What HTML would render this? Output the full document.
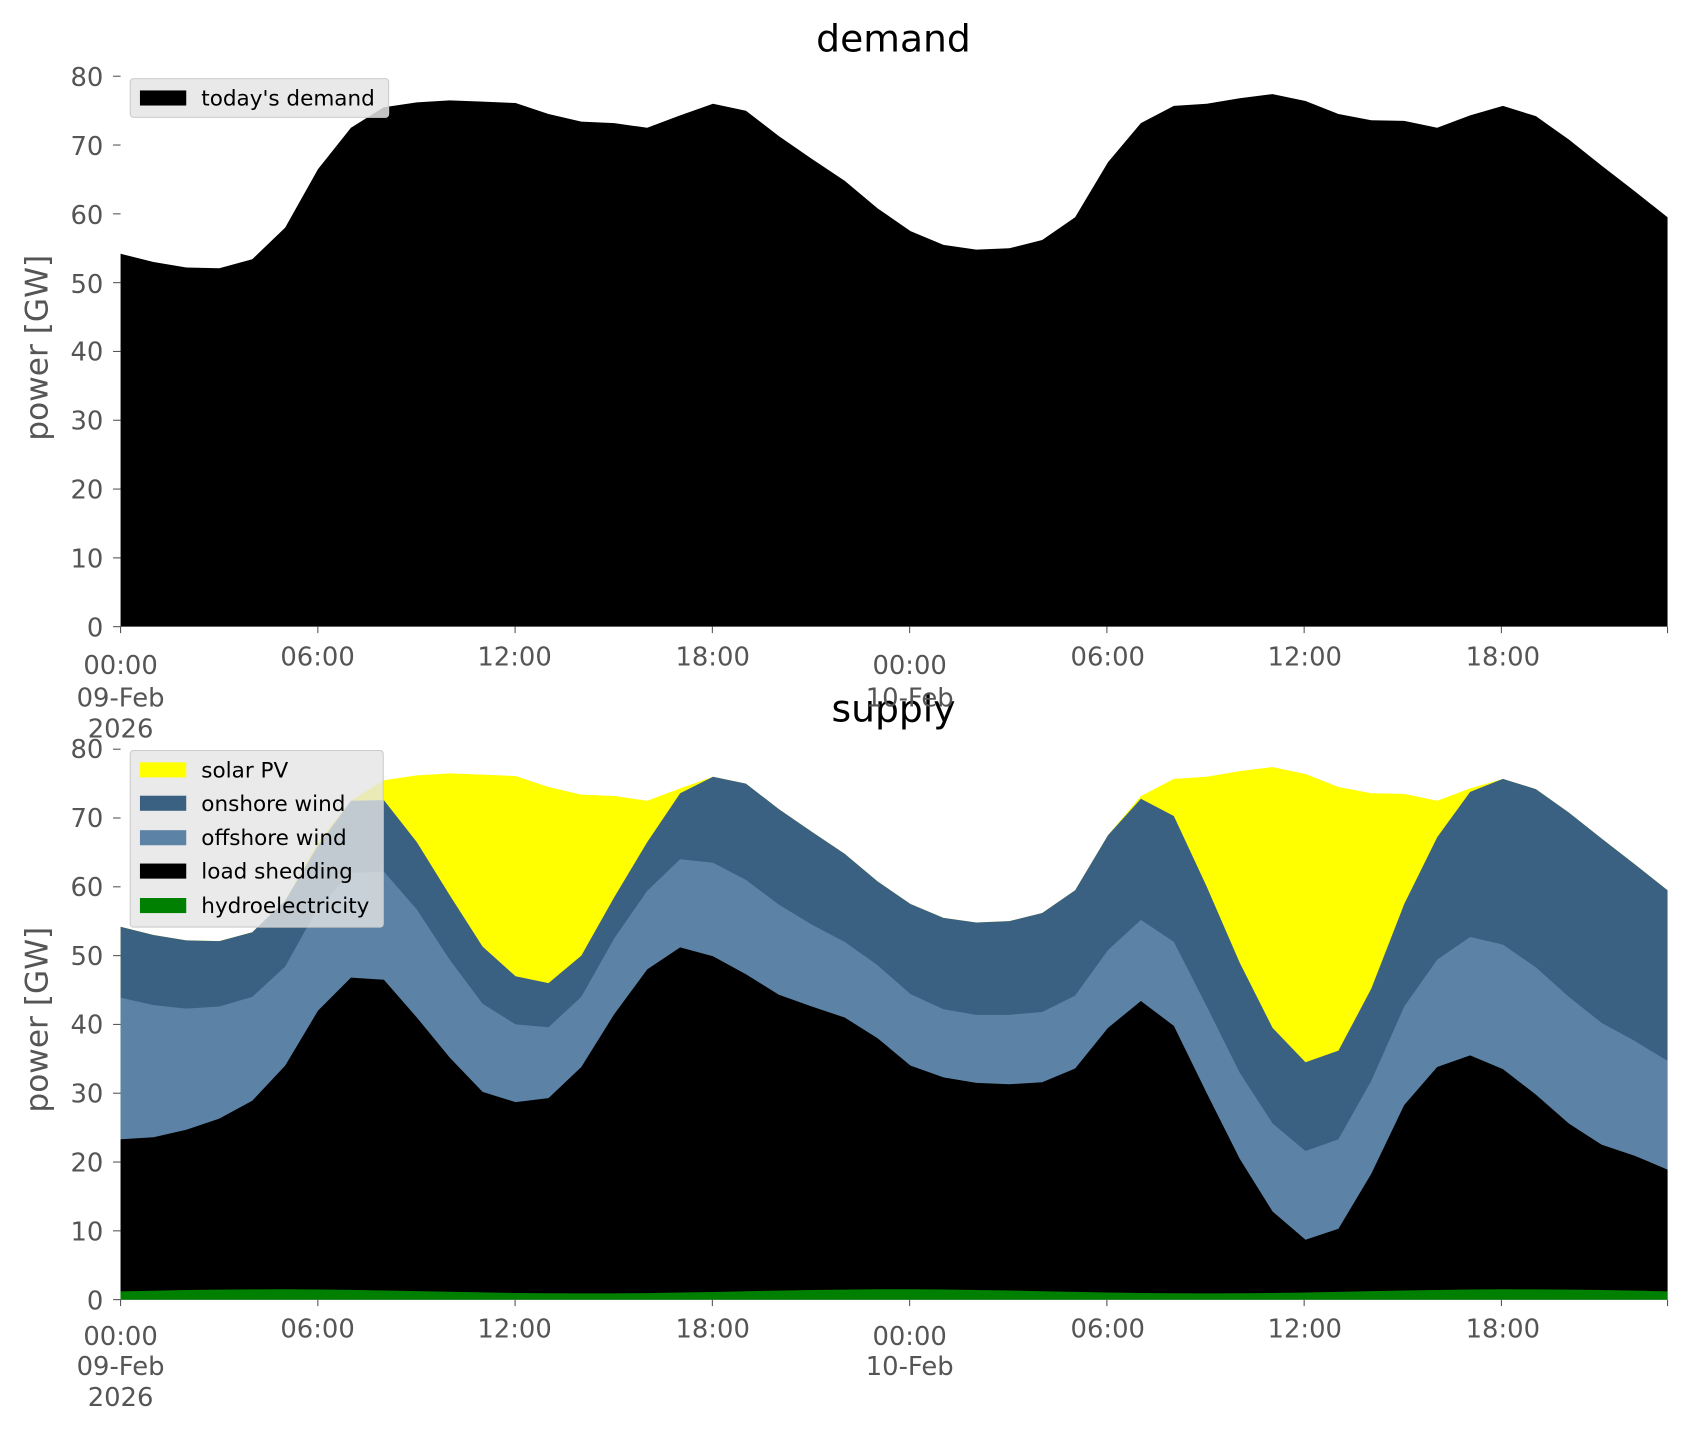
<!DOCTYPE html>
<html><head><meta charset="utf-8"><style>
html,body{margin:0;padding:0;background:#fff}
svg{display:block}
text{font-family:"DejaVu Sans","Liberation Sans",sans-serif}
.t{font-size:24px;fill:#555}
</style></head><body>
<svg id="s" width="1688" height="1431" viewBox="0 0 1568 1329" preserveAspectRatio="none" xmlns="http://www.w3.org/2000/svg">
<g id="top"></g><g id="bot"></g>
<text x="830" y="48" font-size="35" text-anchor="middle">demand</text>
<text x="830" y="670" font-size="35" text-anchor="middle">supply</text>
<text transform="translate(44,323) rotate(-90)" font-size="29" fill="#555" text-anchor="middle">power [GW]</text>
<text transform="translate(44,947) rotate(-90)" font-size="29" fill="#555" text-anchor="middle">power [GW]</text>
<g id="ticks"></g>
<g class="t" text-anchor="middle">
<text x="112" y="626">00:00</text><text x="112" y="656">09-Feb</text><text x="112" y="685">2026</text>
<text x="295" y="618">06:00</text><text x="478" y="618">12:00</text><text x="662" y="618">18:00</text>
<text x="845" y="626">00:00</text><text x="845" y="656">10-Feb</text>
<text x="1029" y="618">06:00</text><text x="1212" y="618">12:00</text><text x="1396" y="618">18:00</text>
<text x="112" y="1249">00:00</text><text x="112" y="1277">09-Feb</text><text x="112" y="1306">2026</text>
<text x="295" y="1242">06:00</text><text x="478" y="1242">12:00</text><text x="662" y="1242">18:00</text>
<text x="845" y="1249">00:00</text><text x="845" y="1277">10-Feb</text>
<text x="1029" y="1242">06:00</text><text x="1212" y="1242">12:00</text><text x="1396" y="1242">18:00</text>
</g>
<g class="t" text-anchor="end">
<text x="96" y="591">0</text><text x="96" y="527">10</text><text x="96" y="463">20</text><text x="96" y="399">30</text><text x="96" y="335">40</text><text x="96" y="272">50</text><text x="96" y="208">60</text><text x="96" y="144">70</text><text x="96" y="80">80</text>
<text x="96" y="1216">0</text><text x="96" y="1152">10</text><text x="96" y="1088">20</text><text x="96" y="1024">30</text><text x="96" y="960">40</text><text x="96" y="896">50</text><text x="96" y="832">60</text><text x="96" y="768">70</text><text x="96" y="704">80</text>
</g>
<g>
<rect x="121" y="73" width="240" height="36" rx="3" fill="#e5e5e5" fill-opacity="0.85" stroke="#ccc"/>
<rect x="130" y="84" width="43" height="14" fill="#000"/>
<text x="187" y="98" font-size="20">today's demand</text>
<rect x="121" y="697" width="235" height="164" rx="3" fill="#e5e5e5" fill-opacity="0.8" stroke="#ccc"/>
<rect x="130" y="708" width="43" height="14" fill="#ffff00"/><text x="187" y="722" font-size="20">solar PV</text>
<rect x="130" y="739" width="43" height="14" fill="#3b6182"/><text x="187" y="753" font-size="20">onshore wind</text>
<rect x="130" y="771" width="43" height="14" fill="#5c83a5"/><text x="187" y="785" font-size="20">offshore wind</text>
<rect x="130" y="802" width="43" height="14" fill="#000"/><text x="187" y="816" font-size="20">load shedding</text>
<rect x="130" y="834" width="43" height="14" fill="#008000"/><text x="187" y="848" font-size="20">hydroelectricity</text>
</g>
</svg>
<script>
var D=[54.2,53,52.2,52.1,53.4,58,66.5,72.5,75.5,76.2,76.5,76.3,76.1,74.5,73.4,73.2,72.5,74.3,76,75,71.3,68,64.8,60.8,57.5,55.5,54.8,55,56.2,59.5,67.5,73.2,75.7,76,76.8,77.4,76.4,74.5,73.6,73.5,72.5,74.3,75.7,74.2,70.8,67,63.3,59.5];
var L=[23.3,23.6,24.7,26.3,28.9,34,42,46.8,46.5,41,35.2,30.2,28.7,29.3,33.8,41.5,48,51.2,49.9,47.3,44.3,42.6,41,38,34,32.3,31.5,31.3,31.6,33.6,39.5,43.4,39.8,30,20.5,12.8,8.7,10.3,18.3,28.3,33.8,35.5,33.5,29.8,25.6,22.5,20.9,18.9];
var O=[43.9,42.8,42.3,42.6,44,48.4,57,62,62.2,56.7,49.4,43,40,39.6,44,52.5,59.4,64,63.5,61,57.4,54.5,52,48.6,44.4,42.2,41.4,41.4,41.8,44.2,50.8,55.2,52,42.6,33,25.6,21.6,23.3,31.8,42.6,49.4,52.7,51.6,48.3,44,40.2,37.6,34.7];
var W=[54.2,53,52.2,52.1,53.4,58,66,72.5,72.6,66.5,58.8,51.3,47,46,50,58.5,66.5,73.6,76,75,71.3,68,64.8,60.8,57.5,55.5,54.8,55,56.2,59.5,67.5,72.8,70.3,60,49,39.5,34.5,36.2,45.2,57.5,67.2,73.8,75.7,74.2,70.8,67,63.3,59.5];
var H=D.map(function(v,i){return 1.2+0.3*Math.sin(i/3)});
var ns="http://www.w3.org/2000/svg";
function X(i){return 112+i*(1437/47)}
function area(g,y0,arr,col){var d="M"+X(0)+","+y0;arr.forEach(function(v,i){d+=" L"+X(i).toFixed(1)+","+(y0-v*6.39).toFixed(1)});d+=" L"+X(47)+","+y0+"Z";var p=document.createElementNS(ns,"path");p.setAttribute("d",d);p.setAttribute("fill",col);document.getElementById(g).appendChild(p)}
area("top",582,D,"#000");
area("bot",1207,D,"#ffff00");area("bot",1207,W,"#3b6182");area("bot",1207,O,"#5c83a5");area("bot",1207,L,"#000");area("bot",1207,H,"#008000");
var t=document.getElementById("ticks"),s="";
[582,1207].forEach(function(b){for(var k=0;k<=8;k++){var y=b-k*63.9;s+='<line x1="105" x2="112" y1="'+y+'" y2="'+y+'" stroke="#555"/>'}
[0,6,12,18,24,30,36,42,47].forEach(function(h){var x=h==47?1549:112+h*30.54;s+='<line x1="'+x+'" x2="'+x+'" y1="'+b+'" y2="'+(b+6)+'" stroke="#555"/>'})});
t.innerHTML=s;
</script>
</body></html>
